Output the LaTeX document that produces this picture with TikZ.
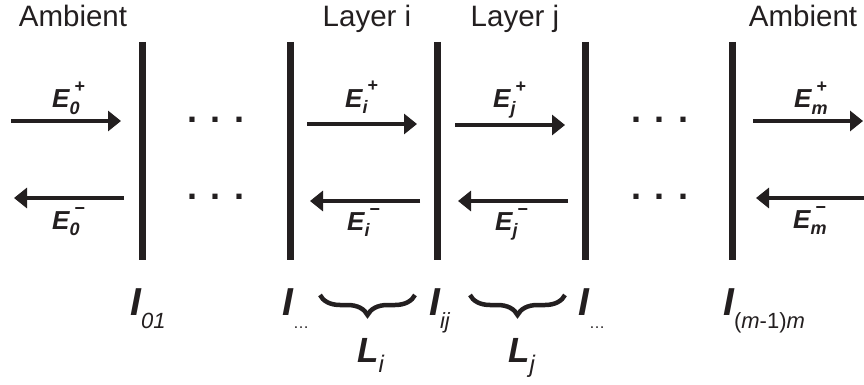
\documentclass[tikz,border=0pt]{standalone}
\usepackage{fontspec}
\setmainfont{Liberation Sans}
\usetikzlibrary{arrows.meta,decorations.pathreplacing}
\definecolor{ink}{RGB}{35,31,32}
\newcommand{\fsz}[1]{\fontsize{#1}{#1}\selectfont}
\newcommand{\Elab}[2]{{\fsz{26}\bfseries\itshape E}\makebox[0pt][l]{\hspace{5pt}\raisebox{15pt}{\fsz{18}\bfseries #2}}\raisebox{-6pt}{\fsz{18}\bfseries\itshape #1}}
\newcommand{\Ilab}[1]{{\fsz{39}\bfseries\itshape I}\raisebox{-13pt}{\fsz{22}#1}}
\newcommand{\Llab}[1]{{\fsz{35}\bfseries\itshape L}\raisebox{-10pt}{\fsz{24}\itshape #1}}
\begin{document}
\begin{tikzpicture}[x=1pt,y=-1pt,color=ink,text=ink,
  bar/.style={line width=7pt},
  ray/.style={line width=4.3pt,-{Triangle[length=13pt,width=20pt]}},
  head/.style={inner sep=0pt,anchor=base,font=\fsz{29.5}},
  elab/.style={inner sep=0pt,anchor=base west},
  ilab/.style={inner sep=0pt,anchor=base west},
  dotrow/.style={inner sep=0pt,anchor=base,font=\fsz{36}\bfseries},
  brc/.style={line width=4.5pt,decorate,decoration={brace,amplitude=20pt}}]
\useasboundingbox (0,0) rectangle (864,385);
% headings
\node[head] (amb1) at (73,27) {Ambient};
\node[head] (layi) at (367,27) {Layer i};
\node[head] (layj) at (515,27) {Layer j};
\node[head] (amb2) at (803,27) {Ambient};
% interfaces
\foreach \n/\x in {1/142.5,2/290,3/437.5,4/585,5/732.5}{
  \coordinate (b\n t) at (\x,42);
  \coordinate (b\n b) at (\x,260);
  \draw[bar] (b\n t) -- (b\n b);
}
% forward rays
\coordinate (f0s) at (11,121);  \coordinate (f0e) at (121,121);
\coordinate (fis) at (307,124); \coordinate (fie) at (417,124);
\coordinate (fjs) at (455,125); \coordinate (fje) at (565,125);
\coordinate (fms) at (753,121); \coordinate (fme) at (863,121);
\draw[ray] (f0s) -- (f0e);
\draw[ray] (fis) -- (fie);
\draw[ray] (fjs) -- (fje);
\draw[ray] (fms) -- (fme);
% backward rays
\coordinate (r0s) at (124,198); \coordinate (r0e) at (14,198);
\coordinate (ris) at (420,201); \coordinate (rie) at (310,201);
\coordinate (rjs) at (568,201); \coordinate (rje) at (458,201);
\coordinate (rms) at (866,198); \coordinate (rme) at (756,198);
\draw[ray] (r0s) -- (r0e);
\draw[ray] (ris) -- (rie);
\draw[ray] (rjs) -- (rje);
\draw[ray] (rms) -- (rme);
% field labels
\node[elab] (e0p) at (52,108)  {\Elab{0}{+}};
\node[elab] (eip) at (345,107) {\Elab{i}{+}};
\node[elab] (ejp) at (493,108) {\Elab{j}{+}};
\node[elab] (emp) at (794,108) {\Elab{m}{+}};
\node[elab] (e0m) at (52,229)  {\Elab{0}{\char"2212}};
\node[elab] (eim) at (347,230) {\Elab{i}{\char"2212}};
\node[elab] (ejm) at (495,230) {\Elab{j}{\char"2212}};
\node[elab] (emm) at (793,228) {\Elab{m}{\char"2212}};
% dots
\node[dotrow] (d1) at (216,122.5) {. . .};
\node[dotrow] (d2) at (216,199.5) {. . .};
\node[dotrow] (d3) at (660,122.5) {. . .};
\node[dotrow] (d4) at (660,199.5) {. . .};
% interface labels
\node[ilab] (i1) at (130,315) {\Ilab{\itshape 01}};
\node[ilab] (i2) at (282,315) {\Ilab{\fsz{16}\ldots}};
\node[ilab] (i3) at (429,315) {\Ilab{\itshape ij}};
\node[ilab] (i4) at (578,315) {\Ilab{\fsz{16}\ldots}};
\node[ilab] (i5) at (723,315) {\Ilab{(\textit{m}-1)\textit{m}}};
% braces
\coordinate (c1a) at (415,295); \coordinate (c1b) at (320,295);
\coordinate (c2a) at (565,295); \coordinate (c2b) at (470,295);
\draw[brc] (c1a) -- (c1b);
\draw[brc] (c2a) -- (c2b);
\node[ilab] (li) at (357,362) {\Llab{i}};
\node[ilab] (lj) at (508,362) {\Llab{j}};
\end{tikzpicture}
\end{document}
